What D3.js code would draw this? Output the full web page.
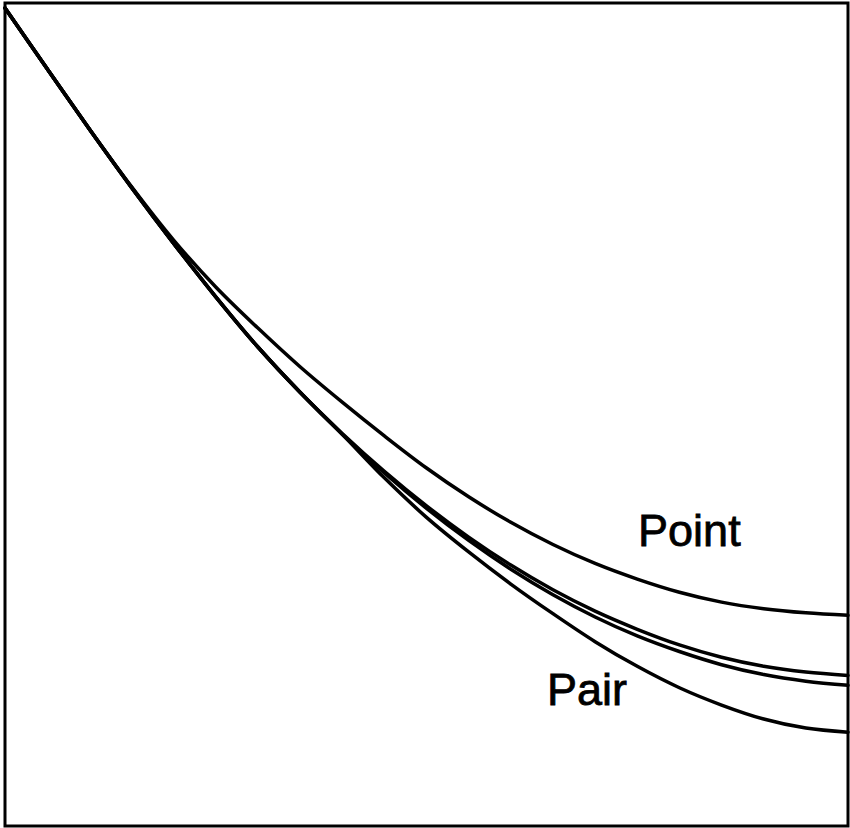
<!DOCTYPE html>
<html>
<head>
<meta charset="utf-8">
<script src="https://cdn.jsdelivr.net/npm/d3@7"></script>
<style>
  html, body { margin: 0; padding: 0; background: #fff; }
  svg { display: block; }
</style>
</head>
<body>
<script>
// ---- data (x in relative units 0..100, y in relative units 0..100) ----
const xValues = [0, 5, 10, 15, 20, 25, 30, 35, 40, 45, 50, 55, 60, 65, 70, 75, 80, 85, 90, 95, 100];

const pointSeries   = [99.4, 92.0, 84.7, 77.7, 71.2, 65.5, 60.5, 55.8, 51.5, 47.4, 43.5, 40.0, 36.9, 34.2, 31.9, 30.0, 28.4, 27.2, 26.4, 25.9, 25.6];
const middleSeriesA = [99.4, 92.0, 84.7, 77.6, 70.8, 64.3, 58.2, 52.7, 47.7, 43.1, 38.9, 35.1, 31.7, 28.7, 26.1, 23.9, 22.0, 20.5, 19.4, 18.7, 18.3];
const middleSeriesB = [99.4, 92.0, 84.7, 77.6, 70.8, 64.3, 58.2, 52.7, 47.6, 42.9, 38.6, 34.7, 31.2, 28.1, 25.4, 23.1, 21.2, 19.6, 18.4, 17.6, 17.1];
const pairSeries    = [99.4, 92.0, 84.7, 77.6, 70.8, 64.3, 58.2, 52.7, 47.6, 42.3, 37.5, 33.3, 29.4, 25.8, 22.4, 19.4, 16.8, 14.7, 13.0, 11.9, 11.4];

const seriesList = [pointSeries, middleSeriesA, middleSeriesB, pairSeries];

const labelTexts = ["Point", "Pair"];
const labelX = [75.1, 64.3];
const labelY = [34.0, 14.7];

// ---- layout ----
const W = 850, H = 828;
const frame = { left: 5, top: 3, right: 848, bottom: 826 };

const svg = d3.select("body").append("svg")
  .attr("width", W).attr("height", H);

const x = d3.scaleLinear().domain([0, 100]).range([frame.left, frame.right]);
const y = d3.scaleLinear().domain([0, 100]).range([frame.bottom, frame.top]);

// frame
svg.append("rect")
  .attr("x", x(0)).attr("y", y(100))
  .attr("width", x(100) - x(0)).attr("height", y(0) - y(100))
  .attr("fill", "none").attr("stroke", "#000").attr("stroke-width", 3);

const line = d3.line()
  .x((d, i) => x(xValues[i]))
  .y(d => y(d))
  .curve(d3.curveCatmullRom.alpha(0.5));

svg.selectAll("path.curve")
  .data(seriesList)
  .join("path")
  .attr("class", "curve")
  .attr("d", d => line(d))
  .attr("fill", "none")
  .attr("stroke", "#000")
  .attr("stroke-width", 3.5)
  .attr("stroke-linejoin", "round")
  .attr("stroke-linecap", "round");

svg.selectAll("text.lbl")
  .data(labelTexts)
  .join("text")
  .attr("class", "lbl")
  .attr("x", (d, i) => x(labelX[i]))
  .attr("y", (d, i) => y(labelY[i]))
  .attr("font-family", "'Liberation Sans', Arial, sans-serif")
  .attr("font-size", 45)
  .attr("fill", "#000")
  .attr("stroke", "#000")
  .attr("stroke-width", 0.8)
  .text(d => d);
</script>
</body>
</html>
